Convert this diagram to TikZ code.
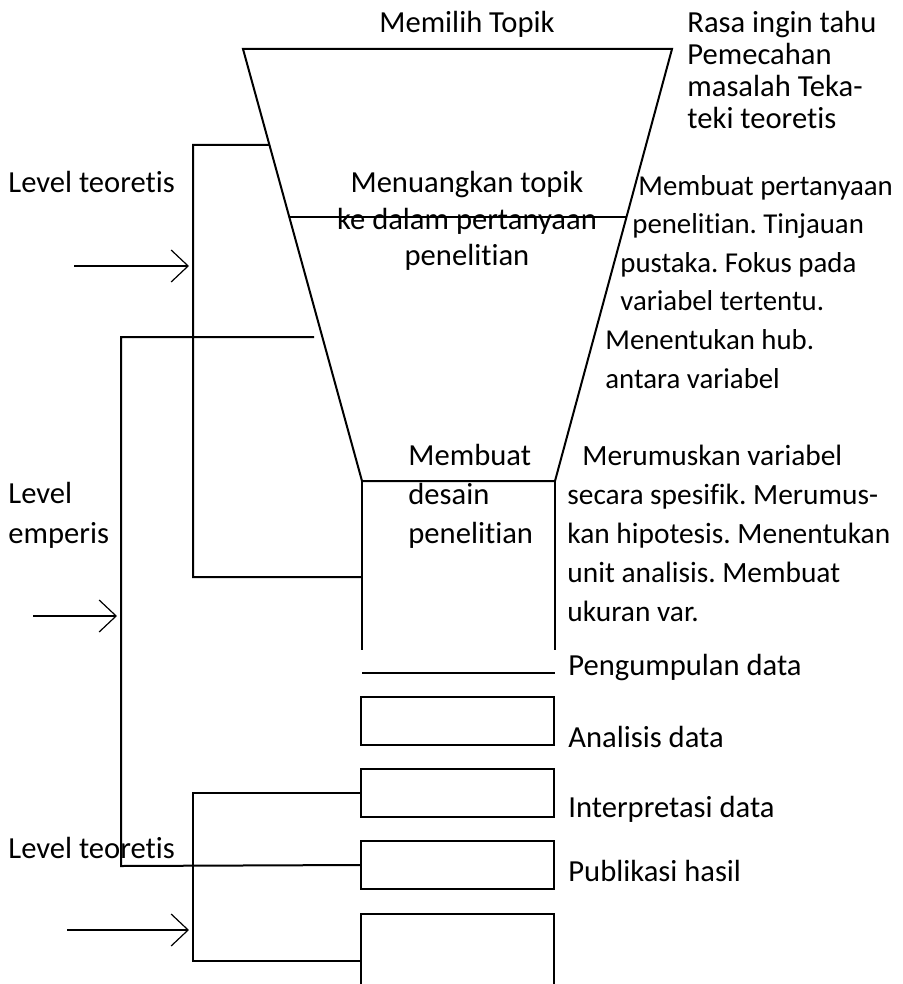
\documentclass[tikz,border=0pt]{standalone}
\usepackage{fontspec}
\setmainfont{Carlito}[Ligatures={NoCommon}]
\frenchspacing
\usetikzlibrary{arrows.meta, positioning, calc}
\tikzset{
  edge/.style    = {line width=1pt},
  pointer/.style = {-{Straight Barb[length=8.5pt, width=16pt]}, line width=0.6pt},
  stage/.style   = {rectangle, draw, line width=1pt, minimum width=96.5pt,
                    minimum height=24pt, inner sep=0pt},
  txt/.style     = {inner sep=0pt, anchor=base west, align=left,
                    font=\fontsize{15.3pt}{19.5pt}\selectfont},
  txtc/.style    = {txt, anchor=base, align=center},
  tight/.style   = {font=\fontsize{15.3pt}{16pt}\selectfont},
}

\begin{document}
\begin{tikzpicture}[x=0.5pt, y=-0.5pt]
    \useasboundingbox (0,0) rectangle (902,984);

    % funnel
    \coordinate (tl) at (243,49);
    \coordinate (tr) at (672,49);
    \coordinate (bl) at (362,481);
    \coordinate (br) at (555,481);
    \draw[edge] (tl) -- (tr) -- (br) -- (bl) -- cycle;
    \draw[edge] ($(tl)!0.389!(bl)$) -- ($(tr)!0.389!(br)$);
    \draw[edge] (bl) -- (362,650);
    \draw[edge] (br) -- (555,650);
    \draw[edge] (362,673) -- (555,673);

    % stages below the funnel
    \node[stage] (analisis) at (457.5,721) {};
    \node[stage] (interp)   at (457.5,793) {};
    \node[stage] (publik)   at (457.5,865) {};
    \draw[edge] (361,984) -- (361,914) -- (554,914) -- (554,984);

    % brackets
    \draw[edge] ($(tl)!0.222!(bl)$) -- (193,145) -- (193,577) -- (362,577);
    \draw[edge] (314,337) -- (121,337) -- (121,866) -- (publik.west);
    \draw[edge] (interp.west) -- (193,793) -- (193,961) -- (361,961);

    \coordinate (a1) at (74,266);  \coordinate (h1) at (189,266);
    \coordinate (a2) at (33,616);  \coordinate (h2) at (117,616);
    \coordinate (a3) at (67,930);  \coordinate (h3) at (189,930);
    \draw[pointer] (a1) -- (h1);
    \draw[pointer] (a2) -- (h2);
    \draw[pointer] (a3) -- (h3);

    % texts (base = baseline of the last line)
    \node[txtc] (topik) at (467,33) {Memilih Topik};
    \node[txt, tight] (alasan) at (687,129)
      {Rasa ingin tahu\\Pemecahan\\masalah Teka-\\teki teoretis};
    \node[txtc, font=\fontsize{15.3pt}{18pt}\selectfont] (tanya) at (467,265)
      {Menuangkan topik\\ke dalam pertanyaan\\penelitian};
    \node[txt, font=\fontsize{14.4pt}{19.3pt}\selectfont] (fokus) at (605,388)
      {\hspace*{16.5pt}Membuat pertanyaan\\
       \hspace*{13.5pt}penelitian. Tinjauan\\
       \hspace*{7.5pt}pustaka. Fokus pada\\
       \hspace*{7.5pt}variabel tertentu.\\
       Menentukan hub.\\
       antara variabel};
    \node[txt] (desain) at (408,543) {Membuat\\desain\\penelitian};
    \node[txt, font=\fontsize{14.7pt}{19.5pt}\selectfont] (rumus) at (567,621)
      {\hspace*{7.5pt}Merumuskan variabel\\
       secara spesifik. Merumus-\\
       kan hipotesis. Menentukan\\
       unit analisis. Membuat\\
       ukuran var.};
    \node[txt] (kumpul) at (568,675) {Pengumpulan data};
    \node[txt] (anl)    at (568,747) {Analisis data};
    \node[txt] (int)    at (568,817) {Interpretasi data};
    \node[txt] (pub)    at (568,881) {Publikasi hasil};

    \node[txt] (lv1) at (8,193) {Level teoretis};
    \node[txt, font=\fontsize{15.3pt}{20pt}\selectfont] (lv2) at (8,543) {Level\\emperis};
    \node[txt] (lv3) at (8,858) {Level teoretis};

  \end{tikzpicture}
\end{document}
